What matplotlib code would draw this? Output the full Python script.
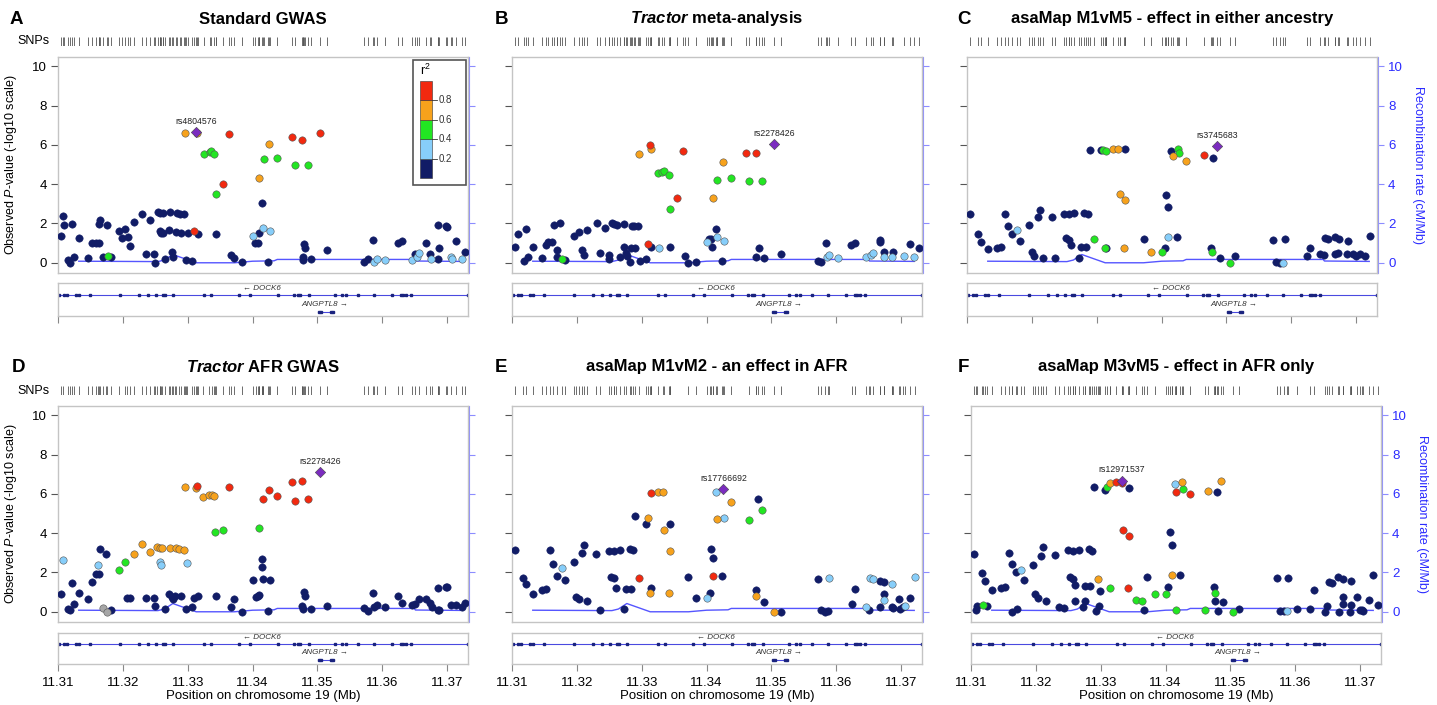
import matplotlib
matplotlib.use('Agg')
import matplotlib.pyplot as plt
from matplotlib.patches import Rectangle
import numpy as np

plt.rcParams['font.family'] = ['Liberation Sans', 'DejaVu Sans']
plt.rcParams['mathtext.fontset'] = 'custom'
plt.rcParams['mathtext.rm'] = 'Liberation Sans'
plt.rcParams['mathtext.it'] = 'Liberation Sans:italic'
plt.rcParams['mathtext.bf'] = 'Liberation Sans:bold:italic'

# ---- data ----
# LD codes: n r2<0.2, b 0.2-0.4, g 0.4-0.6, o 0.6-0.8, r >0.8, p lead SNP, x no LD info
A_pos = [11.3104, 11.3108, 11.3109, 11.3116, 11.3118, 11.3122, 11.3125, 11.3132, 11.3146, 11.3153,
         11.3159, 11.3163, 11.3164, 11.3163, 11.3169, 11.3175, 11.3177, 11.3182, 11.3194, 11.3199,
         11.3203, 11.3208, 11.3211, 11.3217, 11.3230, 11.3236, 11.3242, 11.3248, 11.3249, 11.3254,
         11.3258, 11.3262, 11.3257, 11.3259, 11.3262, 11.3265, 11.3271, 11.3272, 11.3275, 11.3277,
         11.3282, 11.3290, 11.3283, 11.3288, 11.3294, 11.3297, 11.3307, 11.3300, 11.3296, 11.3310,
         11.3313, 11.3315, 11.3316, 11.3325, 11.3334, 11.3336, 11.3341, 11.3343, 11.3343, 11.3354,
         11.3364, 11.3366, 11.3372, 11.3383, 11.3401, 11.3404, 11.3408, 11.3410, 11.3410, 11.3414,
         11.3416, 11.3417, 11.3423, 11.3426, 11.3427, 11.3438, 11.3461, 11.3465, 11.3476, 11.3477,
         11.3478, 11.3479, 11.3481, 11.3485, 11.3490, 11.3504, 11.3514, 11.3571, 11.3578, 11.3585,
         11.3587, 11.3591, 11.3604, 11.3624, 11.3630, 11.3646, 11.3650, 11.3653, 11.3657, 11.3668,
         11.3674, 11.3675, 11.3686, 11.3698, 11.3700, 11.3685, 11.3688, 11.3706, 11.3707, 11.3714,
         11.3722, 11.3728]
A_logp = [1.37, 2.37, 1.90, 0.14, 0.00, 1.97, 0.27, 1.25, 0.22, 1.02,
          1.02, 1.02, 2.20, 1.97, 0.30, 1.90, 0.34, 0.30, 1.60, 1.25,
          1.73, 1.32, 0.85, 2.07, 2.50, 0.47, 2.20, 0.47, 0.00, 2.59,
          2.54, 2.54, 1.60, 1.53, 1.49, 0.17, 1.66, 2.59, 0.54, 0.27,
          1.56, 1.53, 2.54, 2.50, 2.47, 0.14, 0.10, 1.53, 6.58, 1.63,
          6.66, 6.61, 1.44, 5.56, 5.64, 5.69, 5.51, 3.49, 1.44, 4.02,
          6.56, 0.42, 0.25, 0.03, 1.36, 1.02, 1.02, 1.53, 4.32, 3.03,
          1.75, 5.27, 0.05, 6.05, 1.63, 5.34, 6.42, 4.98, 6.25, 0.27,
          0.14, 0.95, 0.73, 4.98, 0.17, 6.61, 0.63, 0.03, 0.17, 1.17,
          0.05, 0.20, 0.15, 1.02, 1.12, 0.14, 0.47, 0.27, 0.52, 1.03,
          0.44, 0.20, 1.92, 1.85, 1.83, 0.19, 0.73, 0.27, 0.19, 1.10,
          0.17, 0.53]
A_ld = list("nnnnnnnnnn" "nnnnnngnnn" "nnnnnnnnnn" "nnnnnnnnnn" "nnnnnnnnor"
            "pongggggnr" "rnnnbnnnon" "bgnobgrgrn" "nnngnrnnnn" "bbbnnbnbbn"
            "nbnnnnnbbn" "bn")

B_pos = [11.3105, 11.3109, 11.3118, 11.3122, 11.3125, 11.3132, 11.3147, 11.3153, 11.3156, 11.3162,
         11.3165, 11.3174, 11.3169, 11.3170, 11.3177, 11.3182, 11.3195, 11.3203, 11.3208, 11.3211,
         11.3216, 11.3231, 11.3236, 11.3243, 11.3249, 11.3249, 11.3254, 11.3257, 11.3262, 11.3266,
         11.3272, 11.3272, 11.3275, 11.3277, 11.3282, 11.3283, 11.3289, 11.3285, 11.3288, 11.3294,
         11.3296, 11.3297, 11.3307, 11.3309, 11.3313, 11.3315, 11.3315, 11.3326, 11.3325, 11.3331,
         11.3335, 11.3342, 11.3343, 11.3343, 11.3354, 11.3364, 11.3366, 11.3372, 11.3383, 11.3400,
         11.3404, 11.3406, 11.3408, 11.3410, 11.3414, 11.3416, 11.3416, 11.3423, 11.3426, 11.3427,
         11.3437, 11.3461, 11.3465, 11.3476, 11.3476, 11.3480, 11.3485, 11.3489, 11.3504, 11.3514,
         11.3571, 11.3577, 11.3584, 11.3586, 11.3589, 11.3603, 11.3623, 11.3628, 11.3645, 11.3653,
         11.3656, 11.3667, 11.3667, 11.3673, 11.3674, 11.3686, 11.3687, 11.3705, 11.3714, 11.3720,
         11.3728]
B_logp = [0.82, 1.45, 0.10, 1.73, 0.31, 0.82, 0.24, 0.92, 1.05, 1.05,
          1.94, 2.01, 0.65, 0.31, 0.17, 0.14, 1.36, 1.55, 0.65, 0.41,
          1.68, 2.00, 0.48, 1.75, 0.41, 0.19, 2.00, 1.96, 1.94, 0.27,
          1.97, 0.82, 0.49, 0.36, 0.03, 0.75, 0.75, 1.89, 1.89, 1.85,
          5.54, 0.10, 0.17, 0.95, 5.99, 5.80, 0.78, 0.75, 4.56, 4.63,
          4.66, 4.49, 2.72, 0.80, 3.30, 5.71, 0.37, 0.00, 0.03, 1.05,
          1.22, 1.22, 0.82, 3.30, 1.70, 1.29, 4.22, 0.07, 5.15, 1.12,
          4.29, 5.60, 4.15, 5.58, 0.31, 0.75, 4.15, 0.24, 6.02, 0.44,
          0.10, 0.03, 0.99, 0.27, 0.41, 0.24, 0.92, 0.99, 0.27, 0.41,
          0.51, 1.17, 1.05, 0.27, 0.54, 0.31, 0.53, 0.34, 0.95, 0.27,
          0.75]
B_ld = list("nnnnnnnnnn" "nnnngnnnnn" "nnnnnnnnnn" "nnnnnnnnnn" "onnrronbgg"
            "gggnrrnnnb" "nnnonbgnob" "grgrnngnpn" "nnnbbbnnbb" "bnnbnbnbnb" "n")

C_pos = [11.3105, 11.3117, 11.3122, 11.3132, 11.3147, 11.3153, 11.3158, 11.3163, 11.3169, 11.3177,
         11.3182, 11.3195, 11.3200, 11.3204, 11.3209, 11.3212, 11.3217, 11.3231, 11.3236, 11.3249,
         11.3258, 11.3265, 11.3253, 11.3257, 11.3261, 11.3272, 11.3275, 11.3283, 11.3281, 11.3286,
         11.3290, 11.3296, 11.3306, 11.3309, 11.3314, 11.3313, 11.3315, 11.3325, 11.3333, 11.3343,
         11.3336, 11.3343, 11.3342, 11.3373, 11.3383, 11.3400, 11.3405, 11.3407, 11.3410, 11.3410,
         11.3414, 11.3417, 11.3423, 11.3426, 11.3427, 11.3437, 11.3465, 11.3476, 11.3477, 11.3479,
         11.3485, 11.3490, 11.3505, 11.3513, 11.3571, 11.3577, 11.3582, 11.3587, 11.3590, 11.3624,
         11.3628, 11.3644, 11.3650, 11.3652, 11.3656, 11.3667, 11.3672, 11.3668, 11.3674, 11.3685,
         11.3687, 11.3695, 11.3699, 11.3706, 11.3714, 11.3721]
C_logp = [2.47, 1.45, 1.05, 0.68, 0.77, 0.78, 2.47, 1.89, 1.48, 1.65,
          1.12, 1.90, 0.53, 0.36, 2.35, 2.70, 0.24, 2.31, 0.24, 2.47,
          2.47, 2.52, 1.24, 1.17, 0.88, 0.22, 0.82, 0.82, 2.53, 2.50,
          5.73, 1.19, 5.73, 5.73, 5.70, 0.77, 0.77, 5.80, 5.80, 5.80,
          3.52, 3.21, 0.77, 1.22, 0.53, 0.53, 0.77, 3.44, 2.82, 1.29,
          5.71, 5.41, 1.31, 5.80, 5.61, 5.20, 5.49, 0.77, 0.54, 5.31,
          5.92, 0.22, 0.00, 0.32, 1.17, 0.02, 0.00, 0.00, 1.19, 0.37,
          0.73, 0.44, 0.39, 1.24, 1.19, 0.43, 0.48, 1.29, 1.21, 0.43,
          1.12, 0.44, 0.34, 0.43, 0.32, 1.36]
C_ld = list("nnnnnnnnnb" "nnnnnnnnnn" "nnnnnnnnnn" "ngngggnoon" "ooonognnnb"
            "nonggorngn" "pngnnnnbnn" "nnnnnnnnnn" "nnnnnn")

D_pos = [11.3104, 11.3107, 11.3116, 11.3118, 11.3122, 11.3125, 11.3132, 11.3146, 11.3153, 11.3158,
         11.3163, 11.3162, 11.3164, 11.3169, 11.3175, 11.3174, 11.3182, 11.3194, 11.3203, 11.3207,
         11.3211, 11.3217, 11.3230, 11.3236, 11.3242, 11.3248, 11.3249, 11.3253, 11.3257, 11.3261,
         11.3257, 11.3259, 11.3265, 11.3271, 11.3275, 11.3277, 11.3281, 11.3290, 11.3272, 11.3282,
         11.3286, 11.3294, 11.3296, 11.3297, 11.3299, 11.3307, 11.3309, 11.3312, 11.3314, 11.3316,
         11.3324, 11.3333, 11.3337, 11.3341, 11.3342, 11.3343, 11.3354, 11.3364, 11.3366, 11.3372,
         11.3383, 11.3400, 11.3405, 11.3408, 11.3410, 11.3410, 11.3414, 11.3415, 11.3416, 11.3416,
         11.3423, 11.3425, 11.3427, 11.3437, 11.3461, 11.3465, 11.3476, 11.3476, 11.3478, 11.3479,
         11.3481, 11.3485, 11.3490, 11.3504, 11.3514, 11.3571, 11.3578, 11.3585, 11.3587, 11.3591,
         11.3604, 11.3624, 11.3630, 11.3646, 11.3651, 11.3656, 11.3668, 11.3673, 11.3676, 11.3686,
         11.3698, 11.3700, 11.3685, 11.3688, 11.3706, 11.3714, 11.3722, 11.3728]
D_logp = [0.90, 2.64, 0.12, 0.10, 1.47, 0.39, 0.95, 0.63, 1.53, 1.94,
          1.91, 2.37, 3.19, 0.20, 0.00, 2.95, 0.09, 2.13, 2.54, 0.70,
          0.70, 2.96, 3.44, 0.72, 3.03, 0.68, 0.27, 3.30, 3.27, 3.24,
          2.54, 2.37, 0.14, 0.90, 0.77, 0.63, 0.80, 0.82, 3.24, 3.22,
          3.20, 3.15, 6.35, 0.12, 2.47, 0.26, 0.68, 6.29, 6.42, 0.82,
          5.84, 5.96, 5.93, 5.87, 4.05, 0.82, 4.17, 6.35, 0.24, 0.63,
          0.00, 1.60, 0.77, 0.82, 0.85, 4.24, 2.71, 2.28, 1.69, 5.76,
          0.05, 6.18, 1.60, 5.88, 6.59, 5.64, 6.64, 0.27, 0.12, 1.02,
          0.78, 5.76, 0.14, 7.12, 0.31, 0.17, 0.05, 0.94, 0.26, 0.34,
          0.22, 0.80, 0.43, 0.32, 0.39, 0.66, 0.63, 0.43, 0.26, 1.23,
          1.24, 1.24, 0.09, 0.09, 0.37, 0.37, 0.26, 0.43]
D_ld = list("nbnnnnnnnn" "nbnxxnnggn" "noononnooo" "bbnnnnnnoo" "ooonbnnorn"
            "oooogngrnn" "nnnnngnnnr" "nrnrrrrnnn" "nrnpnnnnnn" "nnnnnnnnnn" "nnnnnnnn")

E_pos = [11.3105, 11.3117, 11.3122, 11.3132, 11.3147, 11.3153, 11.3158, 11.3163, 11.3169, 11.3177,
         11.3182, 11.3195, 11.3199, 11.3203, 11.3208, 11.3211, 11.3216, 11.3230, 11.3236, 11.3249,
         11.3257, 11.3266, 11.3253, 11.3257, 11.3261, 11.3272, 11.3275, 11.3284, 11.3282, 11.3286,
         11.3289, 11.3296, 11.3307, 11.3309, 11.3313, 11.3315, 11.3315, 11.3325, 11.3333, 11.3335,
         11.3342, 11.3343, 11.3343, 11.3372, 11.3383, 11.3400, 11.3405, 11.3407, 11.3410, 11.3410,
         11.3414, 11.3416, 11.3423, 11.3426, 11.3427, 11.3437, 11.3465, 11.3476, 11.3476, 11.3479,
         11.3485, 11.3489, 11.3504, 11.3514, 11.3571, 11.3576, 11.3583, 11.3587, 11.3589, 11.3624,
         11.3628, 11.3645, 11.3650, 11.3652, 11.3656, 11.3667, 11.3674, 11.3667, 11.3673, 11.3673,
         11.3686, 11.3685, 11.3687, 11.3696, 11.3698, 11.3702, 11.3706, 11.3714, 11.3721]
E_logp = [3.12, 1.73, 1.43, 0.93, 1.10, 1.14, 3.14, 2.41, 1.82, 2.24,
          1.61, 2.55, 0.76, 0.66, 2.99, 3.38, 0.53, 2.95, 0.10, 3.11,
          3.09, 3.12, 1.78, 1.70, 1.19, 0.12, 1.14, 1.14, 3.17, 3.12,
          4.86, 1.71, 4.48, 4.79, 0.97, 6.03, 1.21, 6.09, 6.10, 4.16,
          0.97, 4.48, 3.11, 1.78, 0.68, 0.68, 0.98, 3.19, 2.73, 1.80,
          6.11, 4.74, 1.83, 6.25, 4.75, 5.60, 4.69, 1.09, 0.81, 5.74,
          5.16, 0.48, 0.00, 0.00, 1.68, 0.07, 0.00, 0.05, 1.73, 0.41,
          1.17, 0.22, 0.07, 1.73, 1.68, 1.58, 1.51, 0.25, 0.88, 0.61,
          1.43, 0.25, 0.20, 0.63, 0.14, 0.24, 0.31, 0.68, 1.78]
E_ld = list("nnnnnnnnnb" "nnnnnnnnnn" "nnnnnnnnnn" "nrnoornooo" "ononnbnnnr"
            "bonpbognon" "gnonnnnnbn" "nbnbbnnnnb" "bnnnnnbnb")

F_pos = [11.3105, 11.3108, 11.3110, 11.3118, 11.3117, 11.3122, 11.3125, 11.3132, 11.3147, 11.3153,
         11.3158, 11.3163, 11.3163, 11.3169, 11.3171, 11.3177, 11.3182, 11.3195, 11.3199, 11.3203,
         11.3208, 11.3211, 11.3216, 11.3230, 11.3235, 11.3243, 11.3249, 11.3257, 11.3266, 11.3253,
         11.3257, 11.3261, 11.3261, 11.3272, 11.3275, 11.3284, 11.3276, 11.3282, 11.3286, 11.3289,
         11.3293, 11.3296, 11.3297, 11.3299, 11.3306, 11.3309, 11.3314, 11.3315, 11.3324, 11.3332,
         11.3333, 11.3335, 11.3343, 11.3343, 11.3342, 11.3354, 11.3364, 11.3366, 11.3372, 11.3383,
         11.3400, 11.3404, 11.3407, 11.3410, 11.3410, 11.3414, 11.3416, 11.3416, 11.3422, 11.3426,
         11.3427, 11.3437, 11.3461, 11.3465, 11.3475, 11.3476, 11.3476, 11.3479, 11.3481, 11.3485,
         11.3489, 11.3504, 11.3513, 11.3571, 11.3576, 11.3583, 11.3587, 11.3589, 11.3603, 11.3623,
         11.3628, 11.3645, 11.3648, 11.3652, 11.3656, 11.3666, 11.3674, 11.3667, 11.3673, 11.3673,
         11.3685, 11.3684, 11.3686, 11.3695, 11.3699, 11.3703, 11.3705, 11.3713, 11.3719, 11.3727]
F_logp = [2.94, 0.10, 0.27, 0.32, 1.97, 1.56, 0.29, 1.09, 1.22, 1.24,
          2.98, 2.45, 0.00, 2.04, 0.14, 2.14, 1.63, 2.38, 0.90, 0.71,
          2.86, 3.32, 0.53, 2.87, 0.22, 0.20, 3.13, 3.11, 3.16, 1.77,
          1.65, 1.38, 0.54, 0.24, 1.31, 1.31, 0.53, 3.18, 3.11, 6.36,
          0.05, 1.67, 0.31, 1.05, 6.22, 6.36, 1.22, 6.53, 6.60, 6.67,
          6.53, 4.17, 6.28, 3.84, 1.21, 0.61, 0.54, 0.10, 1.77, 0.88,
          0.88, 1.24, 4.05, 3.42, 1.85, 6.51, 6.09, 0.09, 1.87, 6.62,
          6.26, 5.99, 0.09, 6.14, 1.24, 0.97, 0.53, 6.07, 0.02, 6.63,
          0.51, 0.00, 0.15, 1.72, 0.03, 0.05, 0.05, 1.70, 0.14, 0.14,
          1.09, 0.00, 0.31, 1.53, 1.46, 1.77, 1.67, 0.00, 0.39, 0.75,
          0.34, 0.00, 1.56, 0.73, 0.07, 0.07, 0.03, 0.60, 1.89, 0.37]
F_ld = list("nnngnnnnnn" "nnnnnbnnnn" "nnnnnnnnnn" "nnnnnnnnnn" "nonnnggorp"
            "rrnrrggnng" "gnnnobrgno" "grgongnnno" "ngnnnnbnnn" "nnnnnnnnnn" "nnnnnnnnnn")

LEAD_SNPS = {'A': 'rs4804576', 'B': 'rs2278426', 'C': 'rs3745683',
             'D': 'rs2278426', 'E': 'rs17766692', 'F': 'rs12971537'}
TITLES = {'A': 'Standard GWAS', 'B': r'$\mathbf{Tractor}$ meta-analysis',
          'C': 'asaMap M1vM5 - effect in either ancestry', 'D': r'$\mathbf{Tractor}$ AFR GWAS',
          'E': 'asaMap M1vM2 - an effect in AFR', 'F': 'asaMap M3vM5 - effect in AFR only'}

RECOMB_POS = [11.3132, 11.3254, 11.3264, 11.3277, 11.3313, 11.3372, 11.3400, 11.3433, 11.3438,
              11.3649, 11.3651, 11.3720]
RECOMB_RATE = [0.08, 0.06, 0.14, 0.42, 0.0, 0.0, 0.08, 0.10, 0.17, 0.17, 0.09, 0.07]

DOCK6_EXONS = [11.31015, 11.31087, 11.31138, 11.31272, 11.31323, 11.31487, 11.31949, 11.32256,
               11.32385, 11.32503, 11.32615, 11.32656, 11.32779, 11.33256, 11.33359, 11.33795,
               11.33959, 11.34390, 11.34631, 11.34692, 11.34728, 11.34872, 11.35272, 11.35385,
               11.35436, 11.35631, 11.35872, 11.36154, 11.36282, 11.36318, 11.36359, 11.36436,
               11.37315]
ANGPTL8_SPAN = [11.3501, 11.3526]
ANGPTL8_EXONS = [11.35025, 11.35055, 11.35215, 11.35245]

LD_ORDER = ['n', 'x', 'b', 'g', 'o', 'r', 'p']
LD_COLORS = {'n': '#111c66', 'b': '#87cefa', 'g': '#22e622', 'o': '#f7a21c',
             'r': '#f2290f', 'p': '#7b2cbf', 'x': '#a6a6a6'}
LD_BREAKS = ['0.2', '0.4', '0.6', '0.8']

DATA = {'A': (A_pos, A_logp, A_ld), 'B': (B_pos, B_logp, B_ld), 'C': (C_pos, C_logp, C_ld),
        'D': (D_pos, D_logp, D_ld), 'E': (E_pos, E_logp, E_ld), 'F': (F_pos, F_logp, F_ld)}

# ---- layout (pixels) ----
W, H = 1437, 705
fig = plt.figure(figsize=(W / 100, H / 100), dpi=100)

COLS = {'A': (58, 468), 'B': (512, 922), 'C': (967, 1377),
        'D': (58, 468), 'E': (512, 922), 'F': (971, 1381)}
LETTER_X = {'A': 10, 'B': 495, 'C': 957, 'D': 12, 'E': 495, 'F': 958}
ROWS = [dict(title=19, rug=(37, 46), main=(57, 273), gene=(283, 316)),
        dict(title=367, rug=(386, 395), main=(406, 622), gene=(633, 664))]
XLIM = (11.31, 11.3732)
YLIM = (-0.52, 10.47)
BOX = '#c4c4c4'
RECOMB_COL = '#5555ff'


def add_px(l, t, r, b):
    return fig.add_axes([l / W, 1 - b / H, (r - l) / W, (b - t) / H])


for letter in 'ABCDEF':
    row = ROWS[0] if letter in 'ABC' else ROWS[1]
    l, r = COLS[letter]
    pos, logp, ld = [np.array(v) for v in DATA[letter]]

    # titles
    fig.text(LETTER_X[letter] / W, 1 - row['title'] / H, letter, fontsize=13.5,
             fontweight='bold', ha='left', va='center')
    fig.text((l + r) / 2 / W, 1 - row['title'] / H, TITLES[letter], fontsize=12,
             fontweight='bold', ha='center', va='center')

    # SNP rug
    ax_rug = add_px(l, row['rug'][0], r, row['rug'][1])
    ax_rug.vlines(pos, 0, 1, color='#555555', lw=0.6)
    ax_rug.set_xlim(XLIM)
    ax_rug.set_ylim(0, 1)
    ax_rug.axis('off')
    if letter in 'AD':
        fig.text(17 / W, 1 - (row['rug'][0] + row['rug'][1]) / 2 / H, 'SNPs',
                 fontsize=9, ha='left', va='center')

    # main association plot
    ax = add_px(l, row['main'][0], r, row['main'][1])
    ax_r = ax.twinx()
    ax.set_zorder(ax_r.get_zorder() + 1)
    ax.patch.set_visible(False)
    ax.set_xlim(XLIM)
    ax.set_ylim(YLIM)
    ax_r.set_ylim(YLIM)

    ax_r.plot(RECOMB_POS, RECOMB_RATE, color=RECOMB_COL, lw=1.0)

    for code in LD_ORDER:
        m = ld == code
        if not m.any():
            continue
        if code == 'p':
            ax.scatter(pos[m], logp[m], s=28, marker='D', color=LD_COLORS[code],
                       edgecolor='#444444', linewidth=0.4, zorder=5)
            ax.annotate(LEAD_SNPS[letter], (pos[m][0], logp[m][0]), xytext=(0, 4.5),
                        textcoords='offset points', ha='center', va='bottom',
                        fontsize=6.3, color='#222222')
        else:
            ec = LD_COLORS[code] if code == 'n' else '#555555'
            ax.scatter(pos[m], logp[m], s=28, color=LD_COLORS[code], edgecolor=ec,
                       linewidth=0.4, zorder=3)

    for sp in ax.spines.values():
        sp.set_color(BOX)
        sp.set_linewidth(1.0)
    ax.tick_params(axis='x', bottom=False, labelbottom=False)
    ax.set_yticks(range(0, 11, 2))
    ax.tick_params(axis='y', length=5, width=0.8, color='#555555', labelsize=9.5,
                   labelleft=letter in 'AD', pad=3)
    if letter in 'AD':
        ax.set_ylabel(r'Observed $\mathit{P}$-value (-log10 scale)', fontsize=9)
        ax.yaxis.set_label_coords(-0.095, 0.5)

    for name, sp in ax_r.spines.items():
        sp.set_visible(name == 'right')
    ax_r.spines['right'].set_color('#8c8cff')
    ax_r.spines['right'].set_position(('outward', 1))
    ax_r.set_yticks(range(0, 11, 2))
    ax_r.tick_params(axis='y', length=4, width=0.8, color='#8c8cff', labelcolor='#2b2bff',
                     labelsize=9.5, labelright=letter in 'CF', pad=3)
    if letter in 'CF':
        ax_r.set_ylabel('Recombination rate (cM/Mb)', fontsize=9, color='#2b2bff',
                        rotation=270, va='center')
        ax_r.yaxis.set_label_coords(1.1, 0.5)

    # r2 legend (panel A only)
    if letter == 'A':
        ax.add_patch(Rectangle((0.866, 0.407), 0.129, 0.579, transform=ax.transAxes,
                               facecolor='white', edgecolor='#555555', lw=1.2, zorder=6))
        for i, code in enumerate(['n', 'b', 'g', 'o', 'r']):
            ax.add_patch(Rectangle((0.883, 0.44 + i * 0.0898), 0.029, 0.0898,
                                   transform=ax.transAxes, facecolor=LD_COLORS[code],
                                   edgecolor='#333333', lw=0.4, zorder=7))
        for i, lab in enumerate(LD_BREAKS):
            yy = 0.44 + (i + 1) * 0.0898
            ax.plot([0.912, 0.925], [yy, yy], transform=ax.transAxes, color='#333333',
                    lw=0.6, zorder=7)
            ax.text(0.928, yy, lab, transform=ax.transAxes, fontsize=7, color='#333333',
                    ha='left', va='center', zorder=7)
        ax.text(0.897, 0.94, r'r$^2$', transform=ax.transAxes, fontsize=9,
                ha='center', va='center', zorder=7)

    # gene track
    ax_g = add_px(l, row['gene'][0], r, row['gene'][1])
    ax_g.set_xlim(XLIM)
    ax_g.set_ylim(0, 1)
    for sp in ax_g.spines.values():
        sp.set_color(BOX)
        sp.set_linewidth(1.0)
    ax_g.set_yticks([])
    ax_g.axhline(0.64, color='#4a4ae0', lw=0.8)
    ax_g.plot(DOCK6_EXONS, [0.64] * len(DOCK6_EXONS), 's', ms=1.6, color='#1a237e')
    ax_g.plot(ANGPTL8_SPAN, [0.12, 0.12], color='#4a4ae0', lw=0.8)
    ax_g.plot(ANGPTL8_EXONS, [0.12] * len(ANGPTL8_EXONS), 's', ms=1.6, color='#1a237e')
    ax_g.text(11.3415, 0.84, '\u2190 DOCK6', fontsize=5.8, style='italic', ha='center',
              va='center', color='#333333')
    ax_g.text(11.3512, 0.36, 'ANGPTL8 \u2192', fontsize=5.8, style='italic', ha='center',
              va='center', color='#333333')
    ax_g.set_xticks([11.31, 11.32, 11.33, 11.34, 11.35, 11.36, 11.37])
    ax_g.set_xticklabels(['11.31', '11.32', '11.33', '11.34', '11.35', '11.36', '11.37'])
    ax_g.tick_params(axis='x', length=5, width=0.8, color='#888888', labelsize=9.5,
                     labelbottom=letter in 'DEF', pad=4)
    if letter in 'DEF':
        ax_g.set_xlabel('Position on chromosome 19 (Mb)', fontsize=9.5, labelpad=1)

fig.savefig('out.png', dpi=100)
